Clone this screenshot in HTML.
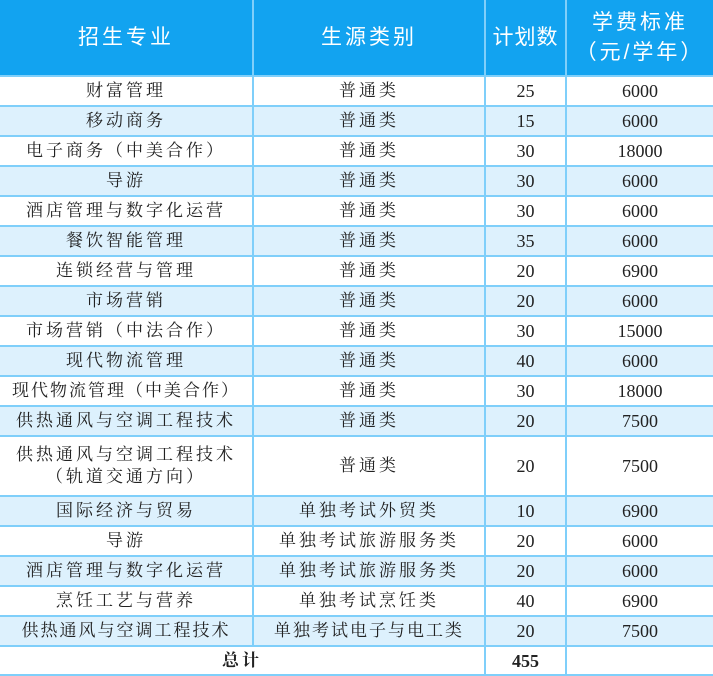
<!DOCTYPE html>
<html><head><meta charset="utf-8"><style>
body{margin:0;background:#fff;}
table{border-collapse:collapse;table-layout:fixed;width:713px;position:absolute;left:0;top:0;}
td{border:2px solid #7fcffa;text-align:center;padding:0;font-family:"Liberation Serif","Noto Serif CJK SC",serif;font-size:17px;color:#222;height:28px;letter-spacing:3px;line-height:22px;}
td.n{letter-spacing:0;font-size:18px;}
tr.h td{background:#12a3f0;color:#fff;font-family:"Liberation Sans","Noto Sans CJK SC",sans-serif;font-size:21px;height:75px;letter-spacing:3px;line-height:30px;border-top:0;}
tr.a td{background:#ddf1fd;}
tr.t td{height:58px;}
tr.f td{height:27px;font-weight:bold;}
td:first-child{border-left:0}td:last-child{border-right:0}
</style></head><body>
<table>
<colgroup><col style="width:253px"><col style="width:232px"><col style="width:81px"><col style="width:147px"></colgroup>
<tr class="h"><td>招生专业</td><td>生源类别</td><td style="letter-spacing:1px">计划数</td><td>学费标准<br>（元/学年）</td></tr>
<tr><td>财富管理</td><td>普通类</td><td class="n">25</td><td class="n">6000</td></tr>
<tr class="a"><td>移动商务</td><td>普通类</td><td class="n">15</td><td class="n">6000</td></tr>
<tr><td>电子商务（中美合作）</td><td>普通类</td><td class="n">30</td><td class="n">18000</td></tr>
<tr class="a"><td>导游</td><td>普通类</td><td class="n">30</td><td class="n">6000</td></tr>
<tr><td>酒店管理与数字化运营</td><td>普通类</td><td class="n">30</td><td class="n">6000</td></tr>
<tr class="a"><td>餐饮智能管理</td><td>普通类</td><td class="n">35</td><td class="n">6000</td></tr>
<tr><td>连锁经营与管理</td><td>普通类</td><td class="n">20</td><td class="n">6900</td></tr>
<tr class="a"><td>市场营销</td><td>普通类</td><td class="n">20</td><td class="n">6000</td></tr>
<tr><td>市场营销（中法合作）</td><td>普通类</td><td class="n">30</td><td class="n">15000</td></tr>
<tr class="a"><td>现代物流管理</td><td>普通类</td><td class="n">40</td><td class="n">6000</td></tr>
<tr><td style="letter-spacing:2px">现代物流管理（中美合作）</td><td>普通类</td><td class="n">30</td><td class="n">18000</td></tr>
<tr class="a"><td>供热通风与空调工程技术</td><td>普通类</td><td class="n">20</td><td class="n">7500</td></tr>
<tr class="t"><td>供热通风与空调工程技术<br>（轨道交通方向）</td><td>普通类</td><td class="n">20</td><td class="n">7500</td></tr>
<tr class="a"><td>国际经济与贸易</td><td>单独考试外贸类</td><td class="n">10</td><td class="n">6900</td></tr>
<tr><td>导游</td><td>单独考试旅游服务类</td><td class="n">20</td><td class="n">6000</td></tr>
<tr class="a"><td>酒店管理与数字化运营</td><td>单独考试旅游服务类</td><td class="n">20</td><td class="n">6000</td></tr>
<tr><td>烹饪工艺与营养</td><td>单独考试烹饪类</td><td class="n">40</td><td class="n">6900</td></tr>
<tr class="a"><td style="letter-spacing:2px">供热通风与空调工程技术</td><td style="letter-spacing:2px">单独考试电子与电工类</td><td class="n">20</td><td class="n">7500</td></tr>
<tr class="f"><td colspan="2">总计</td><td class="n">455</td><td></td></tr>
</table>
</body></html>
